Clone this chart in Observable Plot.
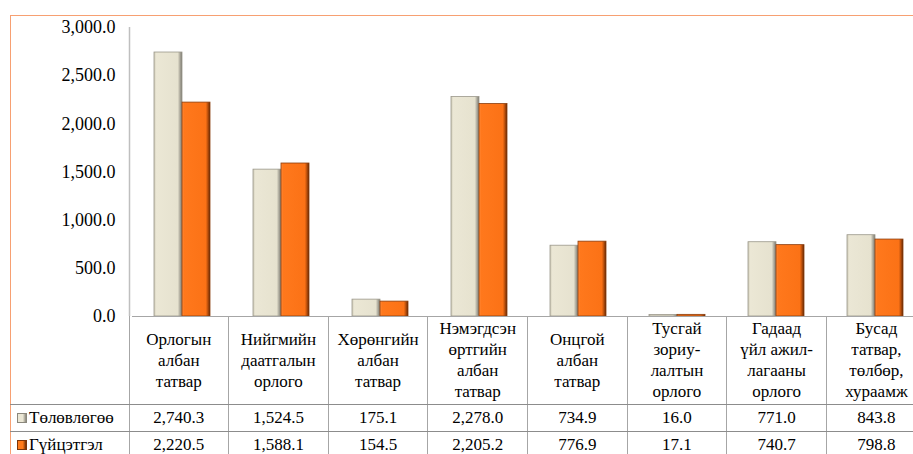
<!DOCTYPE html>
<html><head><meta charset="utf-8">
<script src="https://cdn.jsdelivr.net/npm/d3@7"></script>
<script src="https://cdn.jsdelivr.net/npm/@observablehq/plot@0.6"></script>
<style>
html,body{margin:0;padding:0;overflow:hidden;background:#fff;width:913px;height:454px;}
#wrap{position:relative;width:926px;height:454px;font-family:"Liberation Serif","Times New Roman",Tinos,"DejaVu Serif",serif;color:#000;}
#frame{position:absolute;left:10px;top:15px;width:1000px;height:600px;border:1px solid #F7A072;box-sizing:border-box;}
#chart{position:absolute;left:0;top:0;}
table{position:absolute;left:10px;top:316px;border-collapse:collapse;table-layout:fixed;font-size:17px;font-family:inherit;}
td{padding:0;text-align:center;vertical-align:middle;border-left:1px solid #A6A6A6;border-bottom:1px solid #8C8C8C;}
tr.head td{height:88px;line-height:21px;}
tr.row td{height:26px;line-height:26px;}
td.lab{border-left:none;text-align:left;white-space:nowrap;padding-left:7px;}
.key{display:inline-block;width:8px;height:8px;margin-right:2px;vertical-align:0px;}
</style></head>
<body><div id="wrap"><div id="frame"></div><div id="chart"></div><table id="tbl"></table></div>
<script>
const categories = ["Орлогын\nалбан\nтатвар","Нийгмийн\nдаатгалын\nорлого","Хөрөнгийн\nалбан\nтатвар","Нэмэгдсэн\nөртгийн\nалбан\nтатвар","Онцгой\nалбан\nтатвар","Тусгай\nзориу-\nлалтын\nорлого","Гадаад\nүйл ажил-\nлагааны\nорлого","Бусад\nтатвар,\nтөлбөр,\nхураамж"];
const series = ["Төлөвлөгөө","Гүйцэтгэл"];
const plan = [2740.3,1524.5,175.1,2278.0,734.9,16.0,771.0,843.8];
const actual = [2220.5,1588.1,154.5,2205.2,776.9,17.1,740.7,798.8];
const yTicks = [0,500,1000,1500,2000,2500,3000];

const values = [plan, actual];
const rows = series.flatMap((s, si) => categories.map((c, i) => ({category: c, series: s, value: values[si][i]})));
const fmt = d3.format(",.1f");
const mL = 129;
const serif = "'Liberation Serif','Times New Roman',Tinos,'DejaVu Serif',serif";

const chart = Plot.plot({
  width: 926, height: 317,
  marginLeft: mL, marginRight: 0, marginTop: 27, marginBottom: 1,
  style: {fontFamily: serif, fontSize: "18px", color: "#000", background: "transparent", overflow: "visible"},
  fx: {domain: categories, padding: 0, axis: null},
  x: {domain: series, paddingInner: 0, paddingOuter: 0.74, axis: null},
  y: {domain: [0, 3000], ticks: yTicks, tickFormat: fmt, tickSize: 0, tickPadding: 17, label: null},
  marks: [
    Plot.barY(rows.filter(d => d.series === series[0]), {fx: "category", x: "series", y: "value", fill: "url(#gPlan)", stroke: "#9a978a", strokeWidth: 0.8}),
    Plot.barY(rows.filter(d => d.series === series[1]), {fx: "category", x: "series", y: "value", fill: "url(#gAct)", stroke: "#8a3c0c", strokeWidth: 0.8}),
    Plot.ruleY([0], {stroke: "#A6A6A6", strokeWidth: 1})
  ]
});

const svg = d3.select(chart);
const defs = svg.insert("defs", ":first-child");
function grad(id, stops) {
  const g = defs.append("linearGradient").attr("id", id).attr("x1", 0).attr("x2", 1).attr("y1", 0).attr("y2", 0);
  stops.forEach(([o, c]) => g.append("stop").attr("offset", o).attr("stop-color", c));
}
grad("gPlan", [[0, "#cfcbb7"], [0.08, "#ebe7d5"], [0.85, "#e6e2cf"], [0.93, "#a9a699"], [1, "#7d7b72"]]);
grad("gAct", [[0, "#ff8a3a"], [0.08, "#ff781c"], [0.85, "#fb7216"], [0.93, "#b24b0a"], [1, "#5e2604"]]);
const ys = chart.scale("y");
svg.append("line").attr("x1", mL + 0.5).attr("x2", mL + 0.5)
  .attr("y1", ys.apply(3000)).attr("y2", ys.apply(0))
  .attr("stroke", "#BFBFBF").attr("stroke-width", 1.5);
svg.selectAll("text").attr("font-family", serif);
document.getElementById("chart").appendChild(chart);

// table
const colW = (926 - mL) / categories.length;
const tbl = d3.select("#tbl");
const cg = tbl.append("colgroup");
cg.append("col").style("width", (mL - 10) + "px");
categories.forEach(() => cg.append("col").style("width", colW + "px"));
const head = tbl.append("tr").attr("class", "head");
head.append("td").attr("class", "lab");
categories.forEach(c => head.append("td").html(c.split("\n").join("<br>")));
const keyBg = ["linear-gradient(90deg,#ebe7d5 60%,#8a877c)", "linear-gradient(90deg,#ff7a1a 60%,#6b2c05)"];
const keyBorder = ["#8a877c", "#7a340a"];
series.forEach((s, si) => {
  const tr = tbl.append("tr").attr("class", "row");
  const lab = tr.append("td").attr("class", "lab");
  lab.append("span").attr("class", "key").style("background", keyBg[si]).style("border", "1px solid " + keyBorder[si]);
  lab.append("span").text(s);
  values[si].forEach(v => tr.append("td").text(fmt(v)));
});
</script></body></html>
